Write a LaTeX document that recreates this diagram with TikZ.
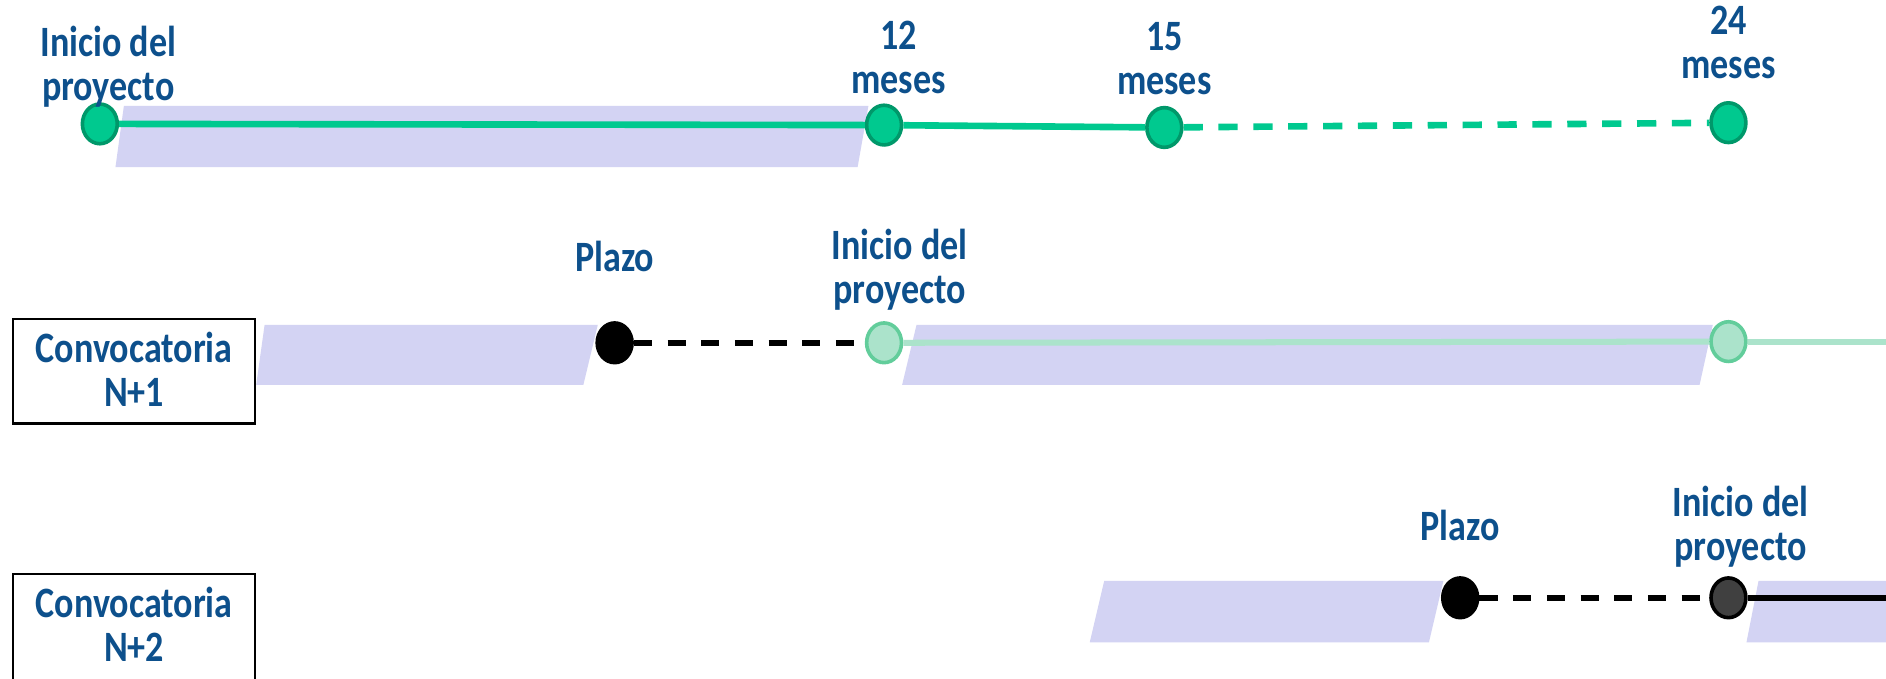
\documentclass[tikz,border=0pt]{standalone}
\usepackage{fontspec}
\usepackage{graphicx}
\setmainfont{Carlito}
\usetikzlibrary{shapes.geometric}
\definecolor{txtblue}{HTML}{0D508C}
\definecolor{bandc}{HTML}{D3D3F3}
\definecolor{gfill}{HTML}{00C98F}
\definecolor{gdraw}{HTML}{00986A}
\definecolor{lgfill}{HTML}{ABE3CB}
\definecolor{lgdraw}{HTML}{62CD9B}
\definecolor{dgray}{HTML}{404040}
\newcommand\stretchtxt[1]{\scalebox{1}[1.2]{\begin{tabular}{@{}c@{}}#1\end{tabular}}}
\begin{document}
\begin{tikzpicture}[x=1pt,y=-1pt,
  lbl/.style={text=txtblue, font=\fontsize{30}{30.5}\selectfont\bfseries, inner sep=0pt},
  convbox/.style={draw=black, line width=2pt, fill=white, minimum width=201pt, minimum height=87pt, text=txtblue, font=\fontsize{30}{30.5}\selectfont\bfseries, inner sep=0pt},
  band/.style={fill=bandc},
  dot/.style={ellipse, minimum width=29pt, minimum height=33pt, inner sep=0pt, line width=3pt},
  gdot/.style={dot, fill=gfill, draw=gdraw},
  lgdot/.style={dot, fill=lgfill, draw=lgdraw},
  bdot/.style={dot, fill=black, draw=black},
  dgdot/.style={dot, fill=dgray, draw=black},
  gline/.style={draw=gfill, line width=5.5pt},
  gdash/.style={gline, dash pattern=on 16pt off 13pt},
  lgline/.style={draw=lgfill, line width=5pt},
  bdash/.style={draw=black, line width=5pt, dash pattern=on 15pt off 13pt},
  bline/.style={draw=black, line width=4.5pt}
]
\useasboundingbox (0,0) rectangle (1568,564);
% bands
\fill[band] (103,88) -- (722,88) -- (713,139) -- (96,139) -- cycle;
\fill[band] (220,270) -- (497,270) -- (485,320) -- (213,320) -- cycle;
\fill[band] (762,270) -- (1424,270) -- (1413,320) -- (750,320) -- cycle;
\fill[band] (918,483) -- (1200,483) -- (1188,534) -- (906,534) -- cycle;
\fill[band] (1462,483) -- (1600,483) -- (1600,534) -- (1452,534) -- cycle;
% boxes
\node[convbox] (c1) at (111.5,308.5) {\raisebox{-4pt}[\height][\depth]{\stretchtxt{Convocatoria\\N+1}}};
\node[convbox, minimum height=89pt] (c2) at (111.5,521.5) {\raisebox{-3pt}[\height][\depth]{\stretchtxt{Convocatoria\\N+2}}};
% row 1
\node[gdot] (a0) at (83,103) {};
\node[gdot] (a12) at (735,104) {};
\node[gdot] (a15) at (968,106) {};
\node[gdot] (a24) at (1437,102) {};
\draw[gline] (a0) -- (a12);
\draw[gline] (a12) -- (a15);
\draw[gdash] (a15) -- (a24);
\node[lbl] (la0) at (90,58) {\stretchtxt{Inicio del\\proyecto}};
\node[lbl] (la12) at (747,52) {\stretchtxt{12\\meses}};
\node[lbl] (la15) at (968,53) {\stretchtxt{15\\meses}};
\node[lbl] (la24) at (1437,40) {\stretchtxt{24\\meses}};
% row 2
\node[bdot] (b0) at (511,285) {};
\node[lgdot] (b1) at (735,285) {};
\node[lgdot] (b2) at (1437,284) {};
\coordinate (be) at (1570,284);
\draw[bdash] (b0) -- (b1);
\draw[lgline] (b1) -- (b2);
\draw[lgline] (b2) -- (be);
\node[lbl] (lb0) at (511,218) {\stretchtxt{Plazo}};
\node[lbl] (lb1) at (748,227) {\stretchtxt{Inicio del\\proyecto}};
% row 3
\node[bdot] (d0) at (1214,497) {};
\node[dgdot] (d1) at (1437,497) {};
\coordinate (de) at (1570,497);
\draw[bdash] (d0) -- (d1);
\draw[bline] (d1) -- (de);
\node[lbl] (ld0) at (1214,442) {\stretchtxt{Plazo}};
\node[lbl] (ld1) at (1447,440) {\stretchtxt{Inicio del\\proyecto}};
\end{tikzpicture}
\end{document}
